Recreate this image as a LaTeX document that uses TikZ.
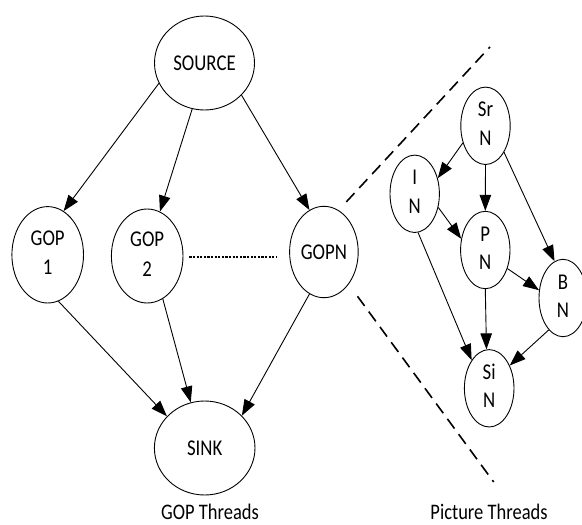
\documentclass[tikz,border=0pt]{standalone}
\usepackage{graphicx}
\usepackage{fontspec}
\setmainfont{Carlito}
\usetikzlibrary{shapes.geometric,arrows.meta}

% text is drawn slightly taller than wide
\newcommand\tallbox[1]{\scalebox{1}[1.2]{#1}}
\newcommand\twolines[3]{\tallbox{\begin{tabular}{@{}c@{}}#1\\[#3]#2\end{tabular}}}

\tikzset{
  thread/.style={draw, line width=0.9pt, ellipse, inner sep=0pt,
    font=\fontsize{18.8}{22}\selectfont},
  link/.style={line width=0.9pt, -{Triangle[length=16pt,width=11.5pt]}},
  boundary/.style={line width=1.6pt, dash pattern=on 12pt off 7pt},
  dotline/.style={line width=1.9pt, dash pattern=on 2.2pt off 1.4pt},
  caption/.style={font=\fontsize{18.5}{22}\selectfont}
}

\begin{document}
\begin{tikzpicture}[x=1pt, y=-1pt]
  \useasboundingbox (0,0) rectangle (582,525);

  % GOP level
  \node[thread, minimum width=100pt, minimum height=94pt] (src) at (204.5,63) {\tallbox{SOURCE}};
  \node[thread, minimum width=71.6pt, minimum height=96.4pt] (gop1) at (47.7,254.8) {\twolines{GOP}{1}{2.8pt}};
  \node[thread, minimum width=71.6pt, minimum height=94pt] (gop2) at (147.2,256) {\twolines{GOP}{2}{2.8pt}};
  \node[thread, minimum width=68.6pt, minimum height=91.4pt] (gopn) at (323.9,252) {\tallbox{GOPN}};
  \node[thread, minimum width=100.6pt, minimum height=94pt] (sink) at (204.7,448) {\tallbox{SINK}};

  \draw[link] (src.204) -- (gop1.70.6);
  \draw[link] (src.255.6) -- (gop2.74.3);
  \draw[link] (src.319) -- (gopn.109.3);
  \draw[link] (gop1.283.6) -- (sink.140.5);
  \draw[link] (gop2.290.8) -- (sink.107);
  \draw[link] (gopn.251.6) -- (sink.41.4);

  \draw[dotline, shorten <=6pt, shorten >=13pt] ([yshift=-0.6pt]gop2.east) -- ([yshift=-0.6pt]gop2.east -| gopn.west);

  % zoom boundary
  \coordinate (zu0) at (346.3,201.9);
  \coordinate (zu1) at (490,46.9);
  \coordinate (zl0) at (357.5,296.3);
  \coordinate (zl1) at (493.7,482);
  \draw[boundary] (zu0) -- (zu1);
  \draw[boundary] (zl0) -- (zl1);

  % picture level
  \node[thread, minimum width=49.4pt, minimum height=66.4pt] (sr) at (485.5,125.8) {\twolines{Sr}{N}{1.6pt}};
  \node[thread, minimum width=49.4pt, minimum height=65.6pt] (inode) at (414.7,193.8) {\twolines{I}{N}{1.6pt}};
  \node[thread, minimum width=49.4pt, minimum height=66.6pt] (pnode) at (485.3,250) {\twolines{P}{N}{1.6pt}};
  \node[thread, minimum width=48pt, minimum height=67.6pt] (bnode) at (563,298) {\twolines{B}{N}{1.6pt}};
  \node[thread, minimum width=49.6pt, minimum height=60pt] (si) at (489.2,388.3) {\twolines{Si}{N}{1.6pt}};

  \draw[link] (sr.217.3) -- (inode.34.4);
  \draw[link] (sr.270) -- (pnode.90);
  \draw[link] (sr.305.2) -- (bnode.103.6);
  \draw[link] (inode.330) -- (pnode.155);
  \draw[link] (inode.275) -- (si.122);
  \draw[link] (pnode.320.6) -- (bnode.162);
  \draw[link] (pnode.270) -- (si.94);
  \draw[link] (bnode.246) -- (si.48.9);

  % captions
  \node[caption] (gopcap) at (210,512) {\tallbox{GOP Threads}};
  \node[caption] (piccap) at (489,512) {\tallbox{Picture Threads}};
\end{tikzpicture}
\end{document}
